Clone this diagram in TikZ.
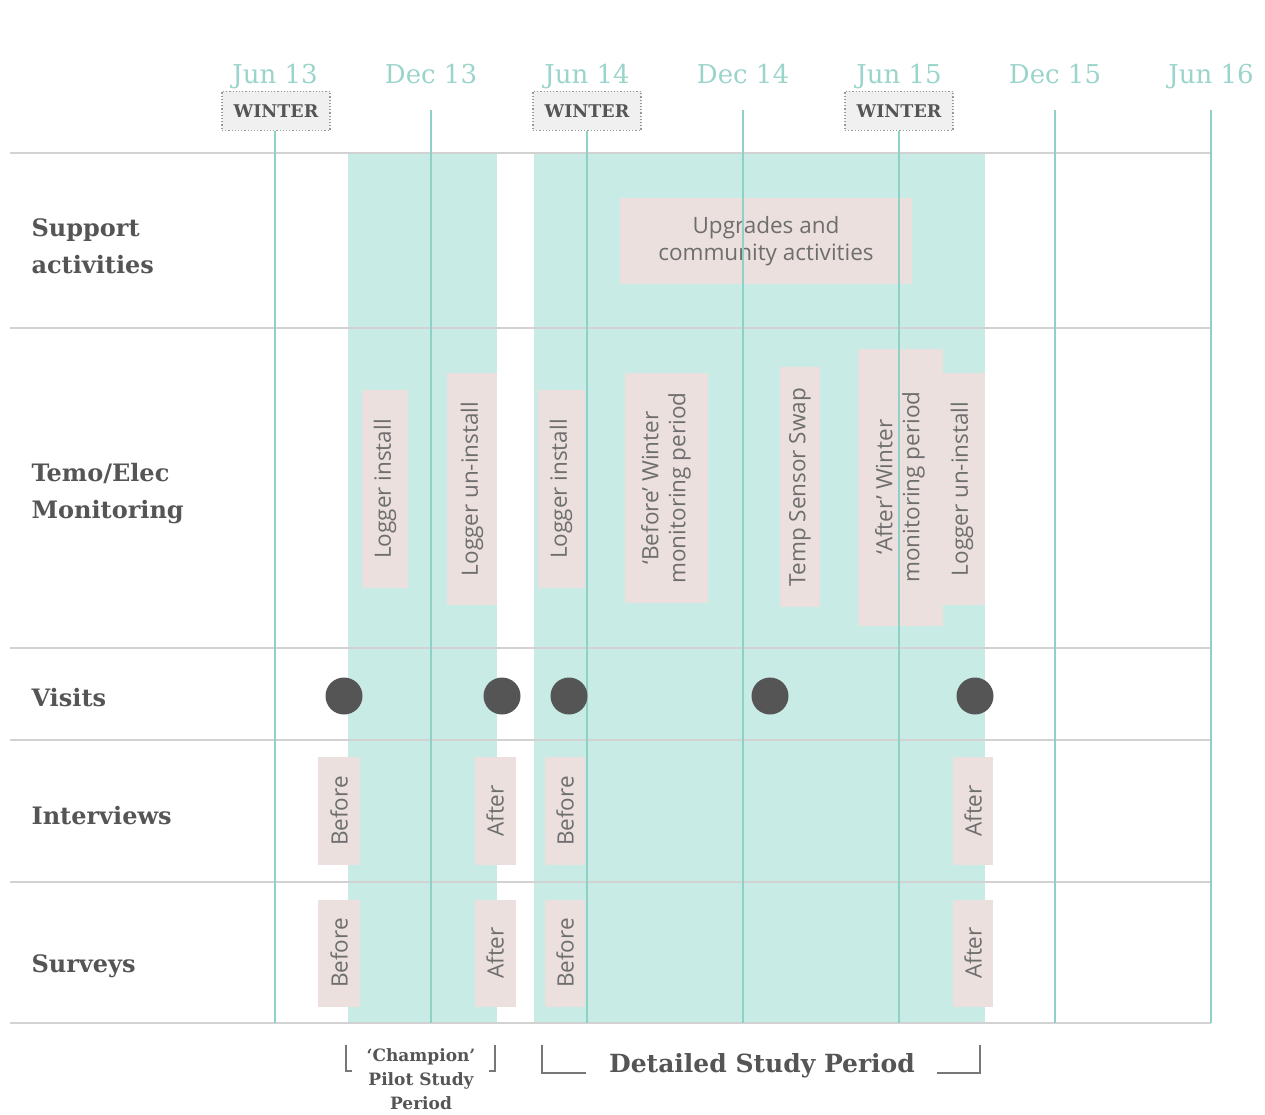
\documentclass[tikz,border=0pt]{standalone}
\usepackage{fontspec}
\setmainfont{DejaVu Serif}
\setsansfont{Open Sans}
\definecolor{bandteal}{HTML}{C9EBE6}
\definecolor{lineteal}{HTML}{8FD1C6}
\definecolor{monthteal}{HTML}{9BD4CB}
\definecolor{rowgrey}{HTML}{D2D2D2}
\definecolor{tagpink}{HTML}{EBE0DD}
\definecolor{tagtext}{HTML}{6E6E6E}
\definecolor{labelgrey}{HTML}{555555}

\begin{document}
\begin{tikzpicture}[x=1pt,y=-1pt,
  month/.style={anchor=base,text=monthteal,font=\fontsize{26}{26}\selectfont},
  winter/.style={draw=gray!80,dotted,line width=1.2pt,fill=gray!12,minimum width=108pt,minimum height=39pt,
    text=labelgrey,font=\bfseries\fontsize{17.5}{17.5}\selectfont},
  rowlabel/.style={anchor=west,align=left,text=labelgrey,font=\bfseries\fontsize{24}{37}\selectfont},
  tag/.style={fill=tagpink,text=tagtext,inner sep=0pt,align=center,font=\sffamily\fontsize{22.5}{27}\selectfont},
  vtag/.style={tag,rotate=90},
  visit/.style={circle,fill=labelgrey,minimum size=37pt,inner sep=0pt},
  period/.style={text=labelgrey,align=center,font=\bfseries\fontsize{17}{24}\selectfont},
  month line/.style={lineteal,line width=1.8pt},
  row line/.style={rowgrey,line width=1.8pt}]
%\draw[step=100,gray,very thin] (0,0) grid (1265,1115); %background grid

\useasboundingbox (0,0) rectangle (1265,1115);

% study periods
\fill[bandteal] (348,153) rectangle (497,1023);
\fill[bandteal] (534,153) rectangle (985,1023);

% pink activity tags
\node[tag,minimum width=292pt,minimum height=86pt] (upgrades) at (766,241) {Upgrades and\\community activities};

\node[vtag,minimum width=198pt,minimum height=46pt] (installA) at (385,489) {Logger install};
\node[vtag,minimum width=232pt,minimum height=50pt] (uninstallA) at (472,489) {Logger un-install};
\node[vtag,minimum width=198pt,minimum height=47pt] (installB) at (561,489) {Logger install};
\node[vtag,minimum width=230pt,minimum height=83pt] (beforewinter) at (666,488) {‘Before’ Winter\\monitoring period};
\node[vtag,minimum width=240pt,minimum height=40pt] (swap) at (800,487) {Temp Sensor Swap};
\node[vtag,minimum width=277pt,minimum height=85pt] (afterwinter) at (900,487) {‘After’ Winter\\monitoring period};
\node[vtag,minimum width=232pt,minimum height=45pt] (uninstallB) at (962,489) {Logger un-install};

\node[vtag,minimum width=108pt,minimum height=42pt] (intbeforeA) at (339,811) {Before};
\node[vtag,minimum width=108pt,minimum height=41pt] (intafterA) at (495,811) {After};
\node[vtag,minimum width=108pt,minimum height=40pt] (intbeforeB) at (565,811) {Before};
\node[vtag,minimum width=108pt,minimum height=40pt] (intafterB) at (973,811) {After};

\node[vtag,minimum width=107pt,minimum height=42pt] (survbeforeA) at (339,953) {Before};
\node[vtag,minimum width=107pt,minimum height=41pt] (survafterA) at (495,953) {After};
\node[vtag,minimum width=107pt,minimum height=40pt] (survbeforeB) at (565,953) {Before};
\node[vtag,minimum width=107pt,minimum height=40pt] (survafterB) at (973,953) {After};

% row rules
\draw[row line] (10,153) -- (1211,153);
\draw[row line] (10,328) -- (1211,328);
\draw[row line] (10,648) -- (1211,648);
\draw[row line] (10,740) -- (1211,740);
\draw[row line] (10,882) -- (1211,882);
\draw[row line] (10,1023) -- (1211,1023);

% months along the top
\node[month] (jun13) at (275,84) {Jun 13};
\node[month] (dec13) at (431,84) {Dec 13};
\node[month] (jun14) at (587,84) {Jun 14};
\node[month] (dec14) at (743,84) {Dec 14};
\node[month] (jun15) at (899,84) {Jun 15};
\node[month] (dec15) at (1055,84) {Dec 15};
\node[month] (jun16) at (1211,84) {Jun 16};

\node[winter] (winterA) at (276,111) {WINTER};
\node[winter] (winterB) at (587,111) {WINTER};
\node[winter] (winterC) at (899,111) {WINTER};

\draw[month line] (winterA.south -| jun13) -- (275,1023);
\draw[month line] (431,110) -- (431,1023);
\draw[month line] (winterB.south -| jun14) -- (587,1023);
\draw[month line] (743,110) -- (743,1023);
\draw[month line] (winterC.south -| jun15) -- (899,1023);
\draw[month line] (1055,110) -- (1055,1023);
\draw[month line] (1211,110) -- (1211,1023);

% row names
\node[rowlabel] (support) at (28,246) {Support\\activities};
\node[rowlabel] (monitoring) at (28,494) {Temo/Elec\\Monitoring};
\node[rowlabel] (visits) at (28,698) {Visits};
\node[rowlabel] (interviews) at (28,816) {Interviews};
\node[rowlabel] (surveys) at (28,966) {Surveys};

% site visits
\node[visit] (visitA) at (344,696) {};
\node[visit] (visitB) at (502,696) {};
\node[visit] (visitC) at (569,696) {};
\node[visit] (visitD) at (770,696) {};
\node[visit] (visitE) at (975,696) {};

% period brackets
\node[period] (pilot) at (421,1079) {‘Champion’\\Pilot Study\\Period};
\draw[labelgrey!80,line width=1.3pt] (346,1045) -- (346,1071) -- (352,1071);
\draw[labelgrey!80,line width=1.3pt] (495,1045) -- (495,1071) -- (489,1071);

\node[period,font=\bfseries\fontsize{25}{25}\selectfont] (detailed) at (762,1066) {Detailed Study Period};
\draw[labelgrey!80,line width=1.3pt] (542,1045) -- (542,1073) -- (586,1073);
\draw[labelgrey!80,line width=1.3pt] (937,1073) -- (980,1073) -- (980,1045);
\end{tikzpicture}
\end{document}
